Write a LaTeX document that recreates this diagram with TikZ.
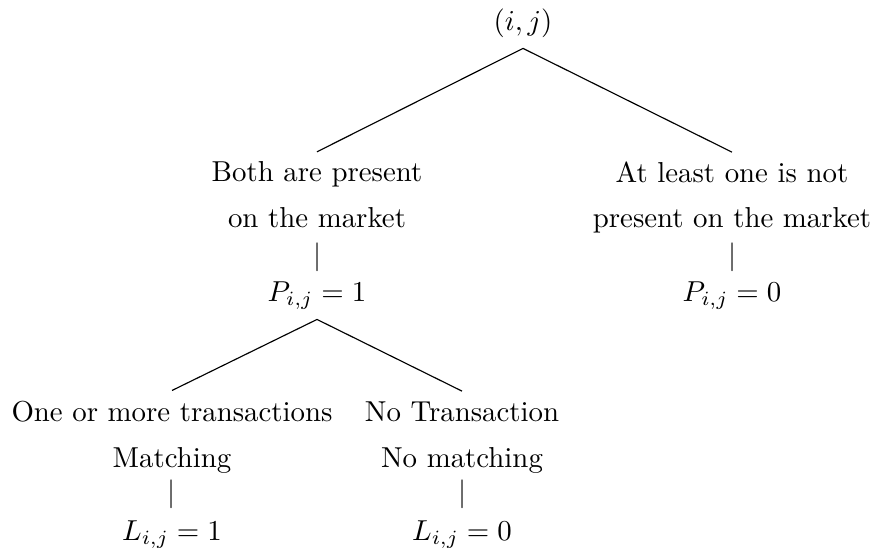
\documentclass[tikz,border=0pt]{standalone}
\begin{document}
\begin{tikzpicture}[x=0.34675pt,y=-0.34675pt,
  txt/.style={anchor=base,inner sep=3.333pt},
  branch/.style={draw,line width=0.4pt}]
\path[use as bounding box] (0,0) rectangle (874,548);
% root
\node[txt] (root) at (523,31) {$(i,j)$};
% level 2 left
\node[txt] (bothA) at (317,182) {Both are present};
\node[txt] (bothB) at (317,227) {on the market};
\node[txt] (barL) at (317,264) {$|$};
\node[txt] (pone) at (317,301) {$P_{i,j}=1$};
% level 2 right
\node[txt] (notA) at (732,183) {At least one is not};
\node[txt] (notB) at (732,228) {present on the market};
\node[txt] (barR) at (732,264) {$|$};
\node[txt] (pzero) at (732,301) {$P_{i,j}=0$};
% level 3 left
\node[txt] (oneA) at (172,421) {One or more transactions};
\node[txt] (oneB) at (172,467) {Matching};
\node[txt] (barLL) at (172,501) {$|$};
\node[txt] (lone) at (172,540) {$L_{i,j}=1$};
% level 3 right
\node[txt] (noA) at (462,421) {No Transaction};
\node[txt] (noB) at (462,467) {No matching};
\node[txt] (barLR) at (462,501) {$|$};
\node[txt] (lzero) at (462,540) {$L_{i,j}=0$};
% connectors
\draw[branch] (root.south) -- (bothA.north);
\draw[branch] (root.south) -- (notA.north);
\draw[branch] (pone.south) -- (oneA.north);
\draw[branch] (pone.south) -- (noA.north);
\end{tikzpicture}
\end{document}
